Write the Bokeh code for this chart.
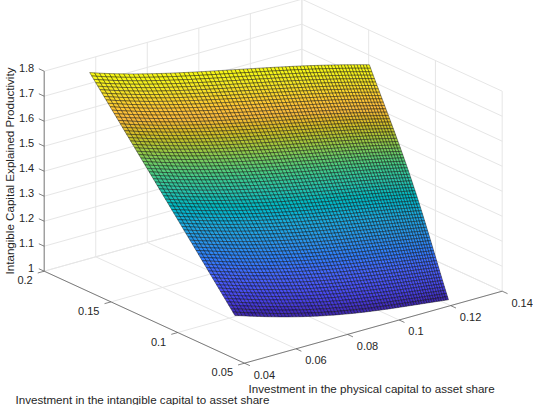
import numpy as np
from bokeh.plotting import figure
from bokeh.models import Range1d
from bokeh.embed import file_html
from bokeh.resources import INLINE

# Surface knots (rows run from the far/top edge to the near/bottom edge)
knot_x = [[0.0575, 0.0745, 0.0933, 0.1122, 0.1297], [0.058, 0.074, 0.0916, 0.1099, 0.1274],
          [0.0585, 0.0729, 0.0895, 0.1073, 0.1242], [0.059, 0.0716, 0.0869, 0.1033, 0.12],
          [0.0588, 0.0709, 0.0851, 0.1014, 0.1186]]
knot_y = [[0.1997, 0.1802, 0.1639, 0.1481, 0.1296], [0.1735, 0.1546, 0.1388, 0.1244, 0.1084],
          [0.1472, 0.1283, 0.1135, 0.1011, 0.0868], [0.121, 0.1018, 0.088, 0.0761, 0.0648],
          [0.0935, 0.077, 0.0643, 0.0557, 0.0489]]
knot_z = [[1.745, 1.74, 1.74, 1.74, 1.74], [1.565, 1.56, 1.56, 1.56, 1.56],
          [1.385, 1.385, 1.385, 1.385, 1.39], [1.205, 1.21, 1.21, 1.215, 1.22],
          [1.03, 1.03, 1.03, 1.03, 1.03]]

x_ticks = [0.04, 0.06, 0.08, 0.1, 0.12, 0.14]
y_ticks = [0.05, 0.1, 0.15, 0.2]
z_ticks = [1, 1.1, 1.2, 1.3, 1.4, 1.5, 1.6, 1.7, 1.8]
x_tick_labels = ["0.04", "0.06", "0.08", "0.1", "0.12", "0.14"]
y_tick_labels = ["0.05", "0.1", "0.15", "0.2"]
z_tick_labels = ["1", "1.1", "1.2", "1.3", "1.4", "1.5", "1.6", "1.7", "1.8"]
x_title = "Investment in the physical capital to asset share"
y_title = "Investment in the intangible capital to asset share"
z_title = "Intangible Capital Explained Productivity"

parula = [(0.2422,0.1504,0.6603),(0.2647,0.1978,0.7952),(0.2783,0.2559,0.8991),(0.2813,0.3006,0.9414),
          (0.2795,0.3447,0.9717),(0.2699,0.3892,0.9906),(0.2440,0.4358,0.9988),(0.1963,0.4847,0.9892),
          (0.1786,0.5289,0.9682),(0.1687,0.5703,0.9359),(0.1460,0.6091,0.9079),(0.1248,0.6459,0.8883),
          (0.0952,0.6798,0.8598),(0.0297,0.7082,0.8163),(0.0067,0.7312,0.7660),(0.0964,0.7500,0.7120),
          (0.1717,0.7670,0.6554),(0.2161,0.7843,0.5923),(0.2906,0.7973,0.5188),(0.3909,0.8029,0.4354),
          (0.5044,0.7993,0.3480),(0.6174,0.7876,0.2612),(0.7242,0.7698,0.1910),(0.8203,0.7498,0.1535),
          (0.9035,0.7330,0.1774),(0.9728,0.7298,0.2394),(0.9970,0.7659,0.2199),(0.9892,0.8136,0.1885),
          (0.9676,0.8639,0.1643),(0.9597,0.9135,0.1423),(0.9691,0.9606,0.1064),(0.9769,0.9839,0.0805)]

# Orthographic view of the box
XL, XH, YL, YH, ZL, ZH = 0.04, 0.14, 0.05, 0.2, 1.0, 1.8
def proj(x, y, z):
    x, y, z = np.asarray(x, float), np.asarray(y, float), np.asarray(z, float)
    return (47.7 + 2577 * (x - XL) + 1335.3 * (YH - y),
            274.7 - 720 * (x - XL) + 613.3 * (YH - y) - 250 * (z - ZL))

p = figure(width=537, height=409, output_backend="svg", toolbar_location=None,
           x_range=Range1d(0, 537), y_range=Range1d(409, 0), min_border=0)
p.axis.visible = False
p.grid.visible = False
p.outline_line_color = None
p.styles = {"margin": "-4px"}

# Grid on the floor and back walls
gx, gy = [], []
def seg(a, b):
    sx, sy = proj([a[0], b[0]], [a[1], b[1]], [a[2], b[2]])
    gx.append(sx.tolist()); gy.append(sy.tolist())
for t in x_ticks:
    seg((t, YL, ZL), (t, YH, ZL)); seg((t, YH, ZL), (t, YH, ZH))
for t in y_ticks:
    seg((XL, t, ZL), (XH, t, ZL)); seg((XH, t, ZL), (XH, t, ZH))
for t in z_ticks:
    seg((XL, YH, t), (XH, YH, t)); seg((XH, YH, t), (XH, YL, t))
p.multi_line(gx, gy, line_color="#e6e6e6", line_width=1)

# Surface
def basis(t):
    k = np.linspace(0, 1, 5)
    return np.array([np.prod([(t - k[m]) / (k[n] - k[m]) for m in range(5) if m != n], axis=0) for n in range(5)]).T
rows, cols = 71, 70
v = np.linspace(0, 1, rows + 1)
w = np.linspace(0, 1, cols + 1)
f = 1.25 * w - 0.25 * w ** 2
Bv, Bf = basis(v), basis(f)
X = Bv @ np.array(knot_x) @ Bf.T
Y = Bv @ np.array(knot_y) @ Bf.T
Z = Bv @ np.array(knot_z) @ Bf.T
SX, SY = proj(X, Y, Z)
zlo, zhi = Z.min(), Z.max()
pal = np.array(parula)
xs, ys, cs = [], [], []
for j in range(rows):
    for i in range(cols):
        xs.append([SX[j, i], SX[j, i + 1], SX[j + 1, i + 1], SX[j + 1, i]])
        ys.append([SY[j, i], SY[j, i + 1], SY[j + 1, i + 1], SY[j + 1, i]])
        t = (Z[j:j + 2, i:i + 2].mean() - zlo) / (zhi - zlo) * (len(pal) - 1)
        c = [np.interp(t, np.arange(len(pal)), pal[:, k]) for k in range(3)]
        cs.append("#%02x%02x%02x" % tuple(int(round(255 * q)) for q in c))
p.patches(xs, ys, fill_color=cs, line_color="#000000", line_width=0.5, line_alpha=0.8)

# Axis lines and ticks
ax, ay = [], []
gx, gy = ax, ay
seg((XL, YH, ZL), (XL, YH, ZH)); seg((XL, YH, ZL), (XL, YL, ZL)); seg((XL, YL, ZL), (XH, YL, ZL))
for t in z_ticks:
    seg((XL, YH, t), (XL, YH + 0.004, t))
for t in y_ticks:
    seg((XL, t, ZL), (XL - 0.0025, t, ZL))
for t in x_ticks:
    seg((t, YL, ZL), (t, YL - 0.004, ZL))
p.multi_line(ax, ay, line_color="#4d4d4d", line_width=0.7)

# Texts
font = "Liberation Sans"
ink = "#262626"
common = dict(text_font={"value": font}, text_color=ink, text_baseline="middle")
sx, sy = proj(XL, YH, np.array(z_ticks))
p.text(np.full(len(z_ticks), sx - 10), sy - 3.5, z_tick_labels, text_align="right", text_font_size="11px", **common)
sx, sy = proj(XL, np.array(y_ticks), ZL)
p.text(sx - 11.5, sy + 9, y_tick_labels, text_align="right", text_font_size="11px", **common)
sx, sy = proj(np.array(x_ticks), YL, ZL)
p.text(sx + 9.2, sy + 11.5, x_tick_labels, text_align="left", text_font_size="11px", **common)
p.text([13], [174.5], [z_title], text_align="center", angle=[np.pi / 2], text_font_size="11.6px", **common)
p.text([252], [392], [x_title], text_align="left", text_font_size="11.6px", **common)
p.text([19], [403], [y_title], text_align="left", text_font_size="11.6px", **common)

open("out.html", "w").write(file_html(p, INLINE))
